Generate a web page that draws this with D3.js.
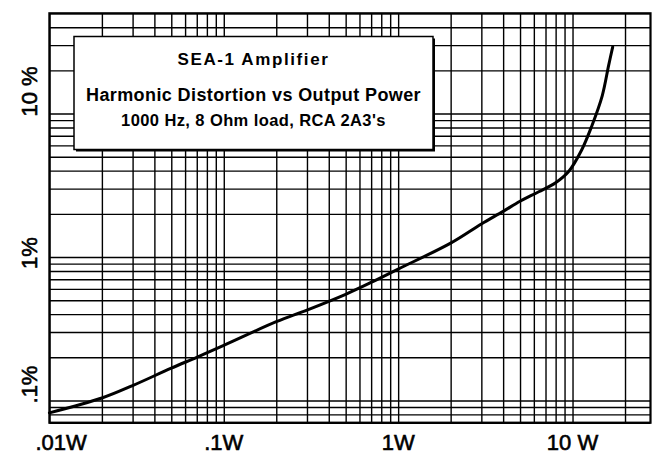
<!DOCTYPE html>
<html>
<head>
<meta charset="utf-8">
<title>SEA-1 Amplifier - Harmonic Distortion vs Output Power</title>
<script src="https://cdn.jsdelivr.net/npm/d3@7"></script>
<style>
  body { margin: 0; background: #fff; }
  svg { display: block; font-family: "Liberation Sans", Arial, Helvetica, sans-serif; }
  .grid line { stroke: #000; stroke-width: 1.4; }
  .grid path { display: none; }
</style>
</head>
<body>
<div id="chart"></div>
<script>
// curve: output power (W) vs THD (%)
var power = [0.01, 0.02, 0.03, 0.05, 0.07, 0.1, 0.2, 0.3, 0.5, 0.7, 1, 2, 3, 4, 5, 6.4, 8, 9.5, 11.3, 12.9, 14.8, 16.1, 17];
var thd   = [0.082, 0.104, 0.127, 0.168, 0.2, 0.242, 0.354, 0.427, 0.55, 0.665, 0.824, 1.25, 1.7, 2.08, 2.45, 2.85, 3.3, 3.95, 5.6, 8.2, 13.3, 21.6, 29.2];

var xLabelValues = [0.01, 0.1, 1, 10];
var xLabels = [".01W", ".1W", "1W", "10 W"];
var yLabelValues = [0.1, 1, 10];
var yLabels = [".1%", "1%", "10 %"];

var titleLines = ["SEA-1 Amplifier", "Harmonic Distortion vs Output Power", "1000 Hz, 8 Ohm load, RCA 2A3's"];

var W = 655, H = 456;
var margin = {top: 13.3, right: 4.5, bottom: 33.3, left: 49.4};
var w = W - margin.left - margin.right,
    h = H - margin.top - margin.bottom;

var svg = d3.select("#chart").append("svg").attr("width", W).attr("height", H);
var g = svg.append("g").attr("transform", "translate(" + margin.left + "," + margin.top + ")");

var x = d3.scaleLog().domain([0.01, 28]).range([0, w]);
var y = d3.scaleLog().domain([0.07, 50]).range([h, 0]);

// log-paper grid: 1..9 of every decade inside the domain
function logGrid(dom) {
  var out = [];
  [0.01, 0.1, 1, 10].forEach(function(d) {
    for (var k = 1; k <= 9; k++) {
      var v = +(k * d).toPrecision(3);
      if (v >= dom[0] && v <= dom[1]) out.push(v);
    }
  });
  return out;
}

g.append("g").attr("class", "grid")
  .attr("transform", "translate(0," + h + ")")
  .call(d3.axisBottom(x).tickValues(logGrid(x.domain())).tickSize(-h).tickFormat(""));

g.append("g").attr("class", "grid")
  .call(d3.axisLeft(y).tickValues(logGrid(y.domain())).tickSize(-w).tickFormat(""));

// frame
g.append("rect").attr("width", w).attr("height", h)
  .attr("fill", "none").attr("stroke", "#000").attr("stroke-width", 2.2);

// curve
var line = d3.line()
  .x(function(d, i) { return x(power[i]); })
  .y(function(d, i) { return y(thd[i]); })
  .curve(d3.curveCatmullRom.alpha(0.5));

g.append("path").datum(power)
  .attr("d", line)
  .attr("fill", "none").attr("stroke", "#000").attr("stroke-width", 3)
  .attr("stroke-linejoin", "round").attr("stroke-linecap", "round");

// legend box with a small shadow
var box = {x: 74 - margin.left, y: 36.5 - margin.top, w: 359, h: 113};
g.append("rect").attr("x", box.x + 2).attr("y", box.y + 2).attr("width", box.w).attr("height", box.h).attr("fill", "#000");
g.append("rect").attr("x", box.x).attr("y", box.y).attr("width", box.w).attr("height", box.h)
  .attr("fill", "#fff").attr("stroke", "#000").attr("stroke-width", 1.5);

var lineY = [28.5, 65, 90];
var lineSize = [17, 18, 16.5];
g.selectAll(".ttl").data(titleLines).enter().append("text")
  .attr("class", "ttl")
  .attr("x", box.x + box.w / 2)
  .attr("y", function(d, i) { return box.y + lineY[i]; })
  .attr("text-anchor", "middle")
  .attr("font-size", function(d, i) { return lineSize[i]; })
  .attr("font-weight", "bold")
  .attr("letter-spacing", function(d, i) { return i === 0 ? 1.6 : 0.4; })
  .attr("fill", "#000")
  .text(function(d) { return d; });

// x labels
svg.selectAll(".xl").data(xLabels).enter().append("text")
  .attr("class", "xl")
  .attr("x", function(d, i) { return margin.left + x(xLabelValues[i]) + (i === 0 ? -14 : 0); })
  .attr("y", 450)
  .attr("text-anchor", function(d, i) { return i === 0 ? "start" : "middle"; })
  .attr("font-size", 22)
  .attr("fill", "#000").attr("stroke", "#000").attr("stroke-width", 0.6)
  .text(function(d) { return d; });

// y labels, rotated
svg.selectAll(".yl").data(yLabels).enter().append("text")
  .attr("class", "yl")
  .attr("transform", function(d, i) {
    var yy = margin.top + y(yLabelValues[i]) + (i === 1 ? 12 : 3);
    return "translate(37," + yy + ") rotate(-90)";
  })
  .attr("text-anchor", "start")
  .attr("font-size", 22)
  .attr("fill", "#000").attr("stroke", "#000").attr("stroke-width", 0.6)
  .text(function(d) { return d; });
</script>
</body>
</html>
